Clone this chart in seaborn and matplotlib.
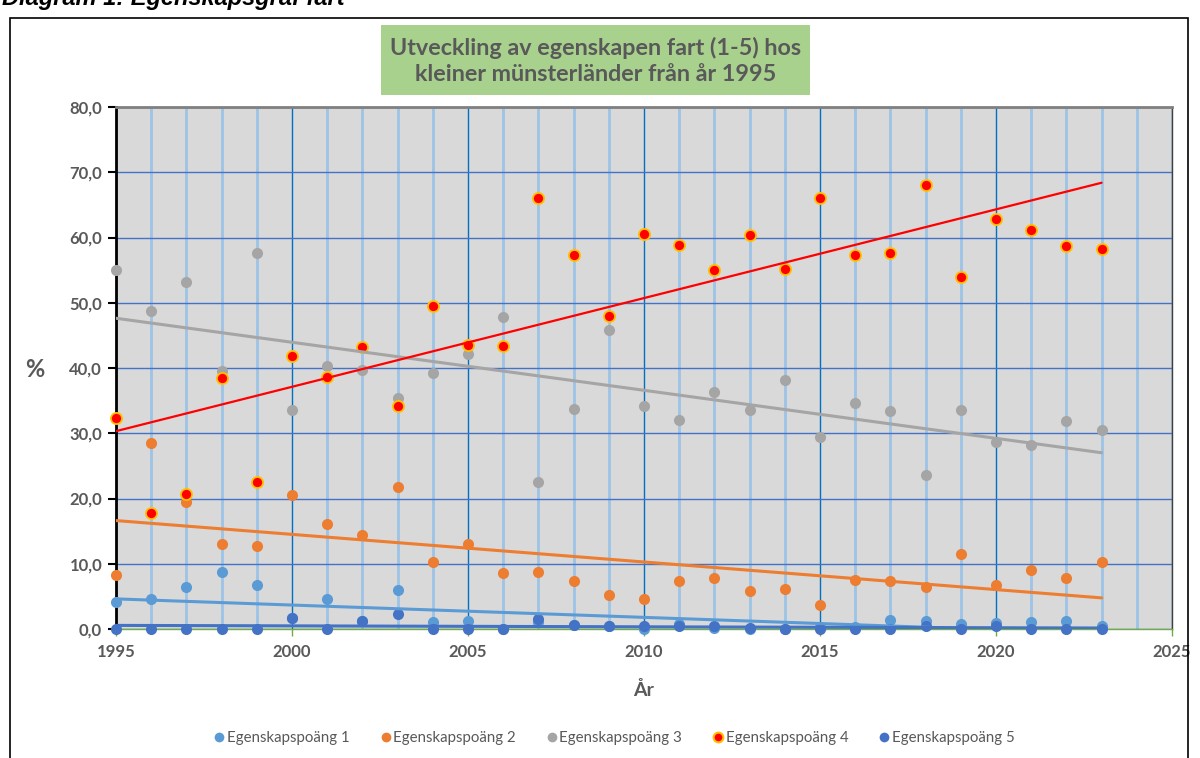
import matplotlib
matplotlib.use("Agg")
import matplotlib.pyplot as plt
import matplotlib.patches as mpatches
from matplotlib.ticker import MultipleLocator, FuncFormatter
from matplotlib.lines import Line2D
import seaborn as sns
import pandas as pd

years = list(range(1995, 2024))
s1 = [4.1, 4.6, 6.4, 8.7, 6.7, 1.7, 4.6, 1.2, 6.0, 1.0, 1.3, 0.0, 1.0, 0.6, 0.5, 0.0, 0.8, 0.2, 0.0, 0.0,
      0.3, 0.3, 1.4, 1.3, 0.7, 0.9, 1.1, 1.3, 0.5]
s2 = [8.3, 28.5, 19.4, 13.1, 12.7, 20.5, 16.1, 14.4, 21.8, 10.3, 13.1, 8.6, 8.7, 7.4, 5.2, 4.6, 7.3, 7.8,
      5.9, 6.1, 3.7, 7.5, 7.3, 6.4, 11.5, 6.7, 9.1, 7.8, 10.3]
s3 = [55.0, 48.7, 53.2, 39.5, 57.7, 33.6, 40.3, 39.7, 35.4, 39.2, 42.1, 47.8, 22.5, 33.7, 45.8, 34.2, 32.0,
      36.3, 33.6, 38.2, 29.4, 34.6, 33.4, 23.6, 33.5, 28.6, 28.2, 31.9, 30.5]
s4 = [32.3, 17.8, 20.7, 38.5, 22.5, 41.8, 38.6, 43.2, 34.2, 49.5, 43.5, 43.4, 66.1, 57.3, 48.0, 60.5, 58.9,
      55.0, 60.4, 55.2, 66.1, 57.3, 57.7, 68.0, 53.9, 62.8, 61.2, 58.7, 58.2]
s5 = [0.0, 0.0, 0.0, 0.0, 0.0, 1.7, 0.0, 1.2, 2.3, 0.0, 0.0, 0.0, 1.6, 0.6, 0.5, 0.4, 0.5, 0.4, 0.1, 0.0,
      0.0, 0.0, 0.0, 0.4, 0.0, 0.5, 0.0, 0.0, 0.0]

labels = ["Egenskapspoäng 1", "Egenskapspoäng 2", "Egenskapspoäng 3", "Egenskapspoäng 4", "Egenskapspoäng 5"]
series = [s1, s2, s3, s4, s5]
colors = ["#5B9BD5", "#ED7D31", "#A5A5A5", "#FF0000", "#4472C4"]
edges = ["#5B9BD5", "#ED7D31", "#A5A5A5", "#FFC000", "#4472C4"]

title = "Utveckling av egenskapen fart (1-5) hos\nkleiner münsterländer från år 1995"
header = "Diagram 1: Egenskapsgraf fart"

sns.set_theme(style="white")
plt.rcParams["font.family"] = ["Lato", "DejaVu Sans"]

W, H = 1200, 758
fig = plt.figure(figsize=(W / 100, H / 100), dpi=100)

def fx(px):
    return px / W

def fy(py):
    return 1 - py / H

# outer chart frame
fig.patches.append(mpatches.Rectangle((fx(10), fy(790)), fx(1188) - fx(10), fy(18) - fy(790),
                                      transform=fig.transFigure, fill=False, edgecolor="#000000", lw=1.2))
fig.text(fx(2), fy(5), header, fontsize=17, fontweight="bold", fontstyle="italic",
         family=["Liberation Sans", "DejaVu Sans"], color="#000000", ha="left", va="baseline")

ax = fig.add_axes([fx(116), fy(629), fx(1172) - fx(116), fy(107) - fy(629)])
ax.set_facecolor("#D9D9D9")

for i, (lab, vals) in enumerate(zip(labels, series)):
    df = pd.DataFrame({"År": years, "v": vals})
    sns.scatterplot(data=df, x="År", y="v", ax=ax, color=colors[i], edgecolor=edges[i],
                    linewidth=1.3 if i == 3 else 0, s=64, zorder=3 + i, label=lab, legend=False,
                    clip_on=False)
for i, vals in enumerate(series):
    df = pd.DataFrame({"År": years, "v": vals})
    sns.regplot(data=df, x="År", y="v", ax=ax, scatter=False, ci=None, truncate=True,
                line_kws={"color": colors[i], "lw": 1.6 if i == 3 else 2.2, "zorder": 9})

ax.set_xlim(1995, 2025)
ax.set_ylim(0, 80)
ax.xaxis.set_major_locator(MultipleLocator(5))
ax.xaxis.set_minor_locator(MultipleLocator(1))
ax.yaxis.set_major_locator(MultipleLocator(10))
ax.yaxis.set_major_formatter(FuncFormatter(lambda v, p: f"{v:.1f}".replace(".", ",")))

ax.grid(which="minor", axis="x", color="#9DC3E6", lw=2.0, zorder=0)
ax.grid(which="major", axis="x", color="#0070C0", lw=1.0, zorder=1)
ax.grid(which="major", axis="y", color="#4472C4", lw=1.0, zorder=1)
ax.set_axisbelow(True)

for side in ["top", "right"]:
    ax.spines[side].set_visible(True)
ax.spines["top"].set_color("#808080")
ax.spines["top"].set_linewidth(2)
ax.spines["right"].set_color("#404040")
ax.spines["right"].set_linewidth(1)
ax.spines["left"].set_color("#000000")
ax.spines["left"].set_linewidth(2)
ax.spines["bottom"].set_color("#70AD47")
ax.spines["bottom"].set_linewidth(1)

ax.tick_params(axis="y", which="major", direction="out", length=6, width=1.5, color="#000000",
               labelsize=12, labelcolor="#595959", pad=4, left=True)
ax.tick_params(axis="x", which="major", direction="out", length=5, width=1, color="#70AD47",
               labelsize=12, labelcolor="#595959", pad=6, bottom=True)
ax.tick_params(axis="x", which="minor", length=0)
for t in ax.get_yticklabels() + ax.get_xticklabels():
    t.set_fontweight("bold")
xt = ax.get_xticklabels()
xt[-1].set_ha("right")

ax.set_xlabel("År", fontsize=14, fontweight="bold", color="#595959")
ax.xaxis.set_label_coords(0.5, -0.10)
ax.set_ylabel("%", fontsize=17, fontweight="bold", color="#595959", rotation=0, va="center")
ax.yaxis.set_label_coords(-0.077, 0.498)

# title box
fig.patches.append(mpatches.Rectangle((fx(381), fy(95)), fx(810) - fx(381), fy(25) - fy(95),
                                      transform=fig.transFigure, facecolor="#A9D18E", edgecolor="none"))
fig.text(fx(596), fy(61), title, fontsize=16.8, fontweight="bold", color="#595959",
         ha="center", va="center", linespacing=1.3)

handles = [Line2D([], [], ls="none", marker="o", markersize=7, markerfacecolor=colors[i],
                  markeredgecolor=edges[i], markeredgewidth=1.5 if i == 3 else 0) for i in range(5)]
fig.legend(handles, labels, loc="center", bbox_to_anchor=(fx(614), fy(738)), ncol=5, frameon=False,
           fontsize=10.8, labelcolor="#595959", handletextpad=0.1, columnspacing=2.0, handlelength=0.8)

fig.savefig("out.png", dpi=100)
